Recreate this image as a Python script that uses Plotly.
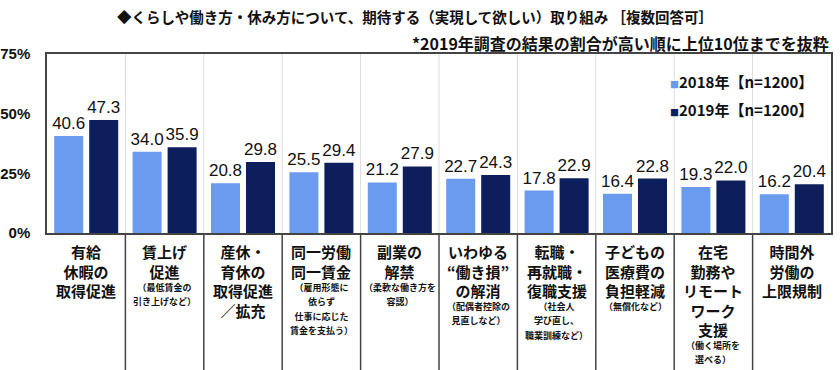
import plotly.graph_objects as go

categories = ["有給休暇の取得促進", "賃上げ促進", "産休・育休の取得促進／拡充", "同一労働同一賃金",
              "副業の解禁", "いわゆる“働き損”の解消", "転職・再就職・復職支援",
              "子どもの医療費の負担軽減", "在宅勤務やリモートワーク支援", "時間外労働の上限規制"]
main_lines = [
    ["有給", "休暇の", "取得促進"],
    ["賃上げ", "促進"],
    ["産休・", "育休の", "取得促進", "／拡充"],
    ["同一労働", "同一賃金"],
    ["副業の", "解禁"],
    ["いわゆる", "“働き損”", "の解消"],
    ["転職・", "再就職・", "復職支援"],
    ["子どもの", "医療費の", "負担軽減"],
    ["在宅", "勤務や", "リモート", "ワーク", "支援"],
    ["時間外", "労働の", "上限規制"],
]
sub_lines = [
    [],
    ["（最低賃金の", "引き上げなど）"],
    [],
    ["（雇用形態に", "依らず", "仕事に応じた", "賃金を支払う）"],
    ["（柔軟な働き方を", "容認）"],
    ["（配偶者控除の", "見直しなど）"],
    ["（社会人", "学び直し、", "職業訓練など）"],
    ["（無償化など）"],
    ["（働く場所を", "選べる）"],
    [],
]
values_2018 = [40.6, 34.0, 20.8, 25.5, 21.2, 22.7, 17.8, 16.4, 19.3, 16.2]
values_2019 = [47.3, 35.9, 29.8, 29.4, 27.9, 24.3, 22.9, 22.8, 22.0, 20.4]
series_names = ["2018年【n=1200】", "2019年【n=1200】"]
y_ticks = [0, 25, 50, 75]

title_text = "◆くらしや働き方・休み方について、期待する（実現して欲しい）取り組み ［複数回答可］"
subtitle_text = "*2019年調査の結果の割合が高い順に上位10位までを抜粋"

C_LIGHT = "#6A9BEE"
C_DARK = "#0C1F5C"
JP = "Noto Sans CJK JP"
NUM = "Liberation Sans, Arial"

W, H = 840, 370
L, R, T, B = 47, 9, 54, 137
PH = H - T - B

fig = go.Figure()
for name, vals, col in [(series_names[0], values_2018, C_LIGHT), (series_names[1], values_2019, C_DARK)]:
    fig.add_trace(go.Bar(
        x=categories, y=vals, name=name, marker=dict(color=col, line=dict(width=0)),
        texttemplate="%{y:.1f}", textposition="outside", constraintext="none",
        cliponaxis=False, textfont=dict(family=NUM, size=17, color="#111"),
        showlegend=False,
    ))

annotations = []
def py(px):
    return (H - B - px) / PH

MAIN_FS = 15          # line spacing 1.3 * 15 = 19.5 px
SUB_SPACING_FS = 11.15  # line spacing ~14.5 px
for i, (ml, sl) in enumerate(zip(main_lines, sub_lines)):
    annotations.append(dict(x=categories[i], xref="x", y=py(240), yref="paper",
                            text="<br>".join(f"<b>{t}</b>" for t in ml), showarrow=False,
                            xanchor="center", yanchor="top", borderpad=0,
                            font=dict(family=JP, size=MAIN_FS, color="#111")))
    if sl:
        last = 250 + 19.5 * (len(ml) - 1)
        annotations.append(dict(x=categories[i], xref="x", y=py(last + 10), yref="paper",
                                text="<br>".join(f"<span style='font-size:9px'><b>{t}</b></span>" for t in sl),
                                showarrow=False, xanchor="center", yanchor="top", borderpad=0,
                                font=dict(family=JP, size=SUB_SPACING_FS, color="#111")))

annotations.append(dict(x=(415 - L) / (W - L - R), xref="paper", y=py(17), yref="paper",
                        text=f"<b>{title_text}</b>", showarrow=False, xanchor="center", yanchor="middle",
                        font=dict(family=JP, size=14.5, color="#111")))
annotations.append(dict(x=(831 - L) / (W - L - R), xref="paper", y=py(43), yref="paper",
                        text=f"<b>{subtitle_text}</b>", showarrow=False, xanchor="right", yanchor="middle",
                        font=dict(family=JP, size=16, color="#111")))
for k, (name, col) in enumerate(zip(series_names, [C_LIGHT, C_DARK])):
    annotations.append(dict(x=(668 - L) / (W - L - R), xref="paper", y=py(81 + 28 * k), yref="paper",
                            text=f"<span style='color:{col};font-size:9px'>■</span><b>{name}</b>",
                            showarrow=False, xanchor="left", yanchor="middle",
                            font=dict(family=JP, size=15, color="#111")))

shapes = []
for i in range(1, len(categories)):
    shapes.append(dict(type="line", xref="x", yref="paper", x0=i - 0.5, x1=i - 0.5, y0=0, y1=1,
                       line=dict(color="#DCDCDC", width=1), layer="below"))
    shapes.append(dict(type="line", xref="x", yref="paper", x0=i - 0.5, x1=i - 0.5, y0=0, y1=-B / PH,
                       line=dict(color="#444", width=1.5)))

fig.update_layout(
    width=W, height=H, margin=dict(l=L, r=R, t=T, b=B, autoexpand=False),
    paper_bgcolor="white", plot_bgcolor="white",
    barmode="group", bargap=0.107, bargroupgap=0.171,
    annotations=annotations, shapes=shapes,
    xaxis=dict(showticklabels=False, ticks="", showgrid=False, showline=True, linecolor="#444",
               linewidth=1.5, mirror=True, zeroline=False, automargin=False),
    yaxis=dict(range=[0, 75], tickvals=y_ticks, ticktext=[f"<b>{v}%</b>" for v in y_ticks],
               ticks="outside", ticklen=12, tickcolor="rgba(0,0,0,0)", showgrid=False, zeroline=False,
               showline=True, linecolor="#444", linewidth=1.5, mirror=True, automargin=False,
               tickfont=dict(family=NUM, size=15, color="#111")),
)
fig.write_html("out.html", config={"displayModeBar": False},
               post_script="document.body.style.margin='0px';")
